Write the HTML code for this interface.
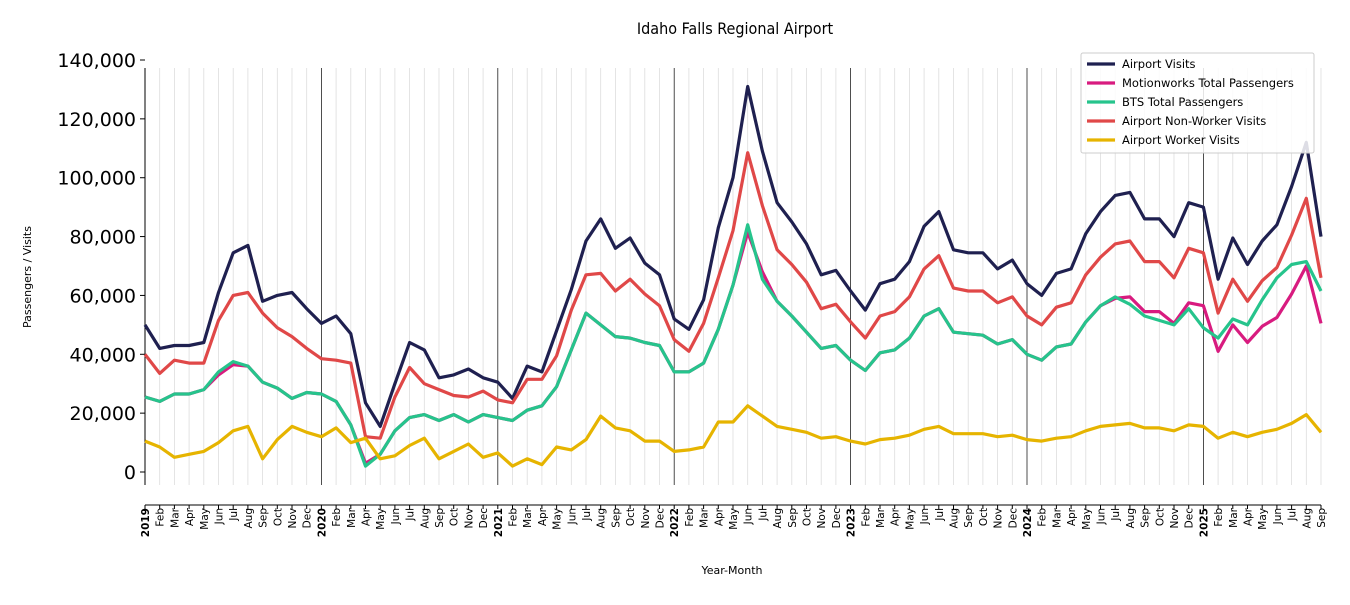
<!DOCTYPE html>
<html><head><meta charset="utf-8"><style>
body{margin:0;background:#fff;}
svg{font-family:"DejaVu Sans","Liberation Sans",sans-serif;}
</style></head><body>
<svg id="s" width="1350" height="600" xmlns="http://www.w3.org/2000/svg"></svg>
<script>
const S=document.getElementById('s');
const X0=145,DX=14.7,Y0=472,PY=412/140000;
const x=i=>X0+i*DX, y=v=>Y0-v*PY;
let h='';
h+='<text x="735" y="34" text-anchor="middle" font-size="16" font-family="Liberation Sans Narrow, DejaVu Sans Condensed, sans-serif">Idaho Falls Regional Airport</text>';
for(let i=0;i<=80;i++){
  const yr=i%12==0;
  h+=`<line x1="${x(i)}" y1="68" x2="${x(i)}" y2="485" stroke="${yr?'#222':'#ddd'}" stroke-width="0.8"/>`;
}
h+='<line x1="145" y1="68" x2="145" y2="485" stroke="#000" stroke-width="1"/>';
h+='<line x1="145" y1="505" x2="1321" y2="505" stroke="#000" stroke-width="1"/>';
for(let v=0;v<=140000;v+=20000){
  h+=`<line x1="140" y1="${y(v)}" x2="145" y2="${y(v)}" stroke="#000"/>`;
  h+=`<text x="136" y="${y(v)+7}" text-anchor="end" font-size="19">${v.toLocaleString('en-US')}</text>`;
}
const M=['Jan','Feb','Mar','Apr','May','Jun','Jul','Aug','Sep','Oct','Nov','Dec'];
for(let i=0;i<=80;i++){
  const m=i%12, yr=2019+Math.floor(i/12);
  h+=`<line x1="${x(i)}" y1="505" x2="${x(i)}" y2="509" stroke="#000"/>`;
  const t=m==0?yr:M[m];
  h+=`<text transform="translate(${x(i)+4},508) rotate(-90)" text-anchor="end" font-size="10.5" ${m==0?'font-weight="bold"':''}>${t}</text>`;
}
h+='<text x="732" y="574" text-anchor="middle" font-size="11">Year-Month</text>';
h+='<text transform="translate(31,277) rotate(-90)" text-anchor="middle" font-size="11">Passengers / Visits</text>';
const A=[50,42,43,43,44,61,74.5,77,58,60,61,55.5, 50.5,53,47,23.5,15.5,30,44,41.5,32,33,35,32, 30.5,25,36,34,48,62,78.5,86,76,79.5,71,67, 52,48.5,58.5,83,100,131,109,91.5,85,77.5,67,68.5, 61.5,55,64,65.5,71.5,83.5,88.5,75.5,74.5,74.5,69,72, 64,60,67.5,69,81,88.5,94,95,86,86,80,91.5, 90,65.5,79.5,70.5,78.5,84,97,112,80];
const R=[40,33.5,38,37,37,51.5,60,61,54,49,46,42, 38.5,38,37,12,11.5,25.5,35.5,30,28,26,25.5,27.5, 24.5,23.5,31.5,31.5,39.5,55,67,67.5,61.5,65.5,60.5,56.5, 45,41,50.5,66,82,108.5,90.5,75.5,70.5,64.5,55.5,57, 51,45.5,53,54.5,59.5,69,73.5,62.5,61.5,61.5,57.5,59.5, 53,50,56,57.5,67,73,77.5,78.5,71.5,71.5,66,76, 74.5,54,65.5,58,65,69.5,80.5,93,66];
const G=[25.5,24,26.5,26.5,28,34,37.5,36,30.5,28.5,25,27, 26.5,24,16,2,6,14,18.5,19.5,17.5,19.5,17,19.5, 18.5,17.5,21,22.5,29,41.5,54,50,46,45.5,44,43, 34,34,37,48.5,63.5,84,65.5,58,53,47.5,42,43, 38,34.5,40.5,41.5,45.5,53,55.5,47.5,47,46.5,43.5,45, 40,38,42.5,43.5,51,56.5,59.5,57,53,51.5,50,55.5, 49,45.5,52,50,58.5,66,70.5,71.5,61.5];
const P=G.slice();
[[5,33],[6,36.5],[15,3],[41,81.5],[42,68],[66,59],[67,59.5],[68,54.5],[69,54.5],[70,50.5],[71,57.5],[72,56.5],[73,41],[74,50],[75,44],[76,49.5],[77,52.5],[78,60.5],[79,70],[80,50.5]].forEach(([i,v])=>P[i]=v);
const W=[10.5,8.5,5,6,7,10,14,15.5,4.5,11,15.5,13.5, 12,15,10,11.5,4.5,5.5,9,11.5,4.5,7,9.5,5, 6.5,2,4.5,2.5,8.5,7.5,11,19,15,14,10.5,10.5, 7,7.5,8.5,17,17,22.5,19,15.5,14.5,13.5,11.5,12, 10.5,9.5,11,11.5,12.5,14.5,15.5,13,13,13,12,12.5, 11,10.5,11.5,12,14,15.5,16,16.5,15,15,14,16, 15.5,11.5,13.5,12,13.5,14.5,16.5,19.5,13.5];
const line=(d,c)=>`<polyline fill="none" stroke="${c}" stroke-width="3.2" stroke-linejoin="round" points="${d.map((v,i)=>x(i).toFixed(1)+','+y(v*1000).toFixed(1)).join(' ')}"/>`;
h+=line(A,'#1f2050')+line(P,'#d81b7f')+line(G,'#26c48c')+line(R,'#e04848')+line(W,'#e6b400');
h+='<rect x="1081" y="53" width="233" height="100" fill="#fff" fill-opacity="0.85" stroke="#ccc" rx="2"/>';
[['Airport Visits','#1f2050'],['Motionworks Total Passengers','#d81b7f'],['BTS Total Passengers','#26c48c'],['Airport Non-Worker Visits','#e04848'],['Airport Worker Visits','#e6b400']].forEach(([t,c],k)=>{
  const yy=64+k*19;
  h+=`<line x1="1087" y1="${yy}" x2="1115" y2="${yy}" stroke="${c}" stroke-width="3.2"/>`;
  h+=`<text x="1122" y="${yy+4}" font-size="11.5">${t}</text>`;
});
S.innerHTML=h;
</script>
</body></html>
